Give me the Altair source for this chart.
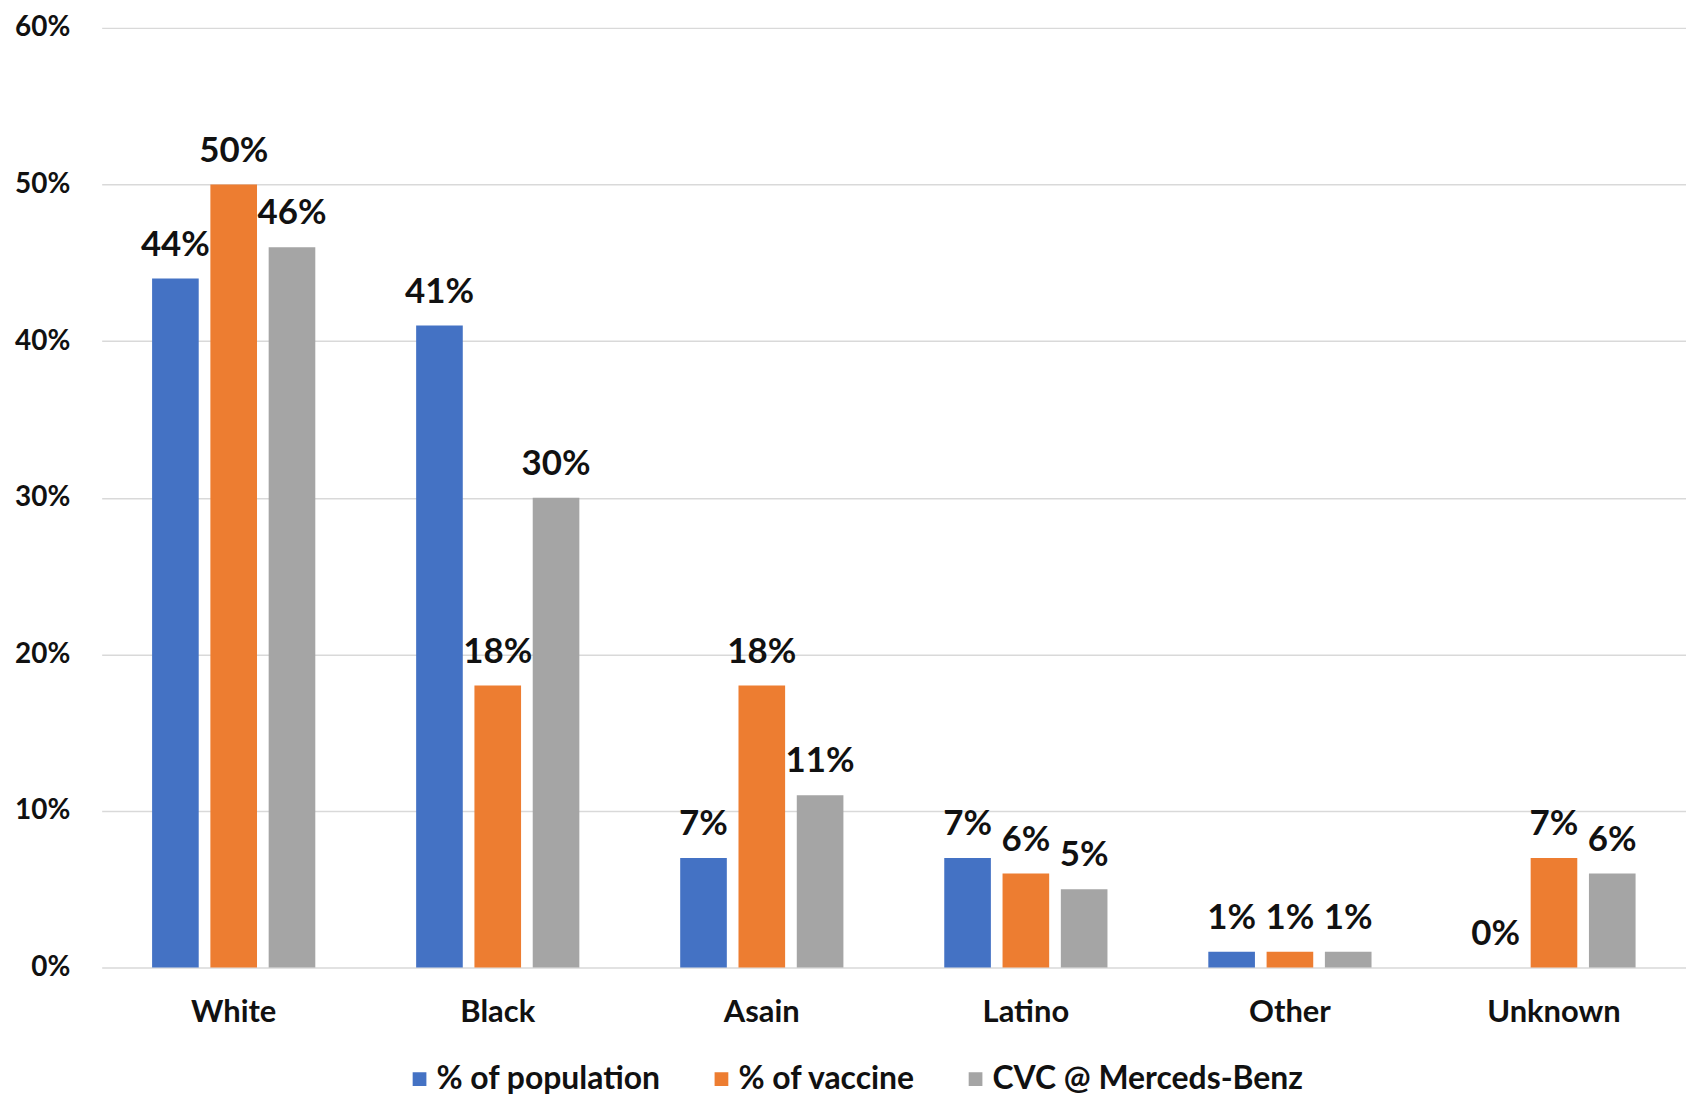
import altair as alt
import pandas as pd

categories = ["White", "Black", "Asain", "Latino", "Other", "Unknown"]
series = ["% of population", "% of vaccine", "CVC @ Merceds-Benz"]
pct_population = [44, 41, 7, 7, 1, 0]
pct_vaccine = [50, 18, 18, 6, 1, 7]
cvc_mercedes = [46, 30, 11, 5, 1, 6]
colors = ["#4472C4", "#ED7D31", "#A5A5A5"]
y_ticks = [0, 10, 20, 30, 40, 50, 60]

rows = []
for s, vals in zip(series, [pct_population, pct_vaccine, cvc_mercedes]):
    for c, v in zip(categories, vals):
        rows.append({"category": c, "series": s, "value": v})
df = pd.DataFrame(rows)

FONT = "Lato"

x = alt.X("category:N", sort=categories, title=None,
          scale=alt.Scale(paddingInner=0, paddingOuter=0),
          axis=alt.Axis(labelAngle=0, labelFont=FONT, labelFontSize=31,
                        labelFontWeight="bold", labelColor="#111111",
                        labelPadding=30, ticks=False, tickSize=0, domain=False,
                        grid=False))
xoff = alt.XOffset("series:N", sort=series,
                   scale=alt.Scale(paddingInner=0.2, paddingOuter=0.865))
y = alt.Y("value:Q", title=None,
          scale=alt.Scale(domain=[0, 60], nice=False),
          axis=alt.Axis(values=y_ticks, labelExpr="datum.value + '%'",
                        labelFont=FONT, labelFontSize=28, labelFontWeight="bold",
                        labelColor="#111111", labelPadding=32, ticks=False,
                        tickSize=0, domain=False, gridColor="#d9d9d9",
                        gridWidth=1.5))

color = alt.Color("series:N", sort=series,
                  scale=alt.Scale(domain=series, range=colors),
                  legend=alt.Legend(title=None, orient="none", direction="horizontal",
                                    columns=3, legendX=303, legendY=1039,
                                    symbolType="square", symbolSize=190,
                                    symbolStrokeWidth=0, labelFont=FONT,
                                    labelFontSize=32, labelFontWeight="bold",
                                    labelColor="#111111", labelOffset=1,
                                    columnPadding=44, padding=0, labelLimit=500))

bars = alt.Chart(df).mark_bar().encode(x=x, xOffset=xoff, y=y, color=color)

labels = alt.Chart(df).transform_calculate(
    label="datum.value + '%'"
).mark_text(font=FONT, fontSize=35, fontWeight="bold", color="#111111",
            baseline="alphabetic", dy=-23).encode(
    x=alt.X("category:N", sort=categories),
    xOffset=alt.XOffset("series:N", sort=series),
    y=alt.Y("value:Q"),
    text="label:N",
)

chart = alt.layer(bars, labels).properties(
    width=1590, height=943,
    padding={"left": 6, "top": 4, "right": 0, "bottom": 0},
).configure(background="white").configure_view(stroke=None, strokeWidth=0)

chart.save("out.html", embed_options={"renderer": "svg", "actions": False})
